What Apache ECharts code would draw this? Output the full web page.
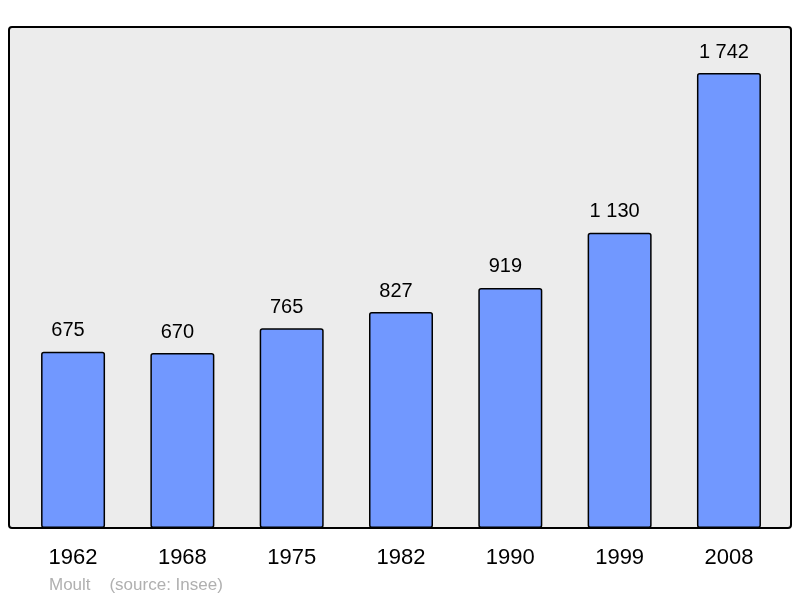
<!DOCTYPE html>
<html><head><meta charset="utf-8">
<script src="https://cdn.jsdelivr.net/npm/echarts@6/dist/echarts.min.js"></script>
<style>html,body{margin:0;padding:0;background:#fff}#c{width:800px;height:598px}</style>
</head><body><div id="c"></div>
<script>
const years = ['1962','1968','1975','1982','1990','1999','2008'];
const population = [675, 670, 765, 827, 919, 1130, 1742];
const sourceText = 'Moult    (source: Insee)';

const chart = echarts.init(document.getElementById('c'), null, {renderer:'canvas'});
const fmt = v => String(v).replace(/\B(?=(\d{3})+(?!\d))/g, ' ');
chart.setOption({
  animation: false,
  backgroundColor: '#fff',
  graphic: [
    {type:'rect', z:-10, shape:{x:9, y:27, width:782, height:501, r:3},
     style:{fill:'#ececec', stroke:'#000', lineWidth:2}},
    {type:'text', left:49, top:577, style:{text:sourceText, fill:'#b0b0b0', font:'17px "Liberation Sans", Arial, sans-serif'}}
  ],
  grid: {left:18.4, right:16.4, top:73, bottom:70},
  xAxis: {
    type:'category', data: years,
    axisLine:{show:false}, axisTick:{show:false},
    axisLabel:{color:'#000', fontSize:22, fontFamily:'"Liberation Sans", Arial, sans-serif', margin:19}
  },
  yAxis: {
    type:'value', min:0, max: v => v.max,
    show:false, splitLine:{show:false}
  },
  series: [{
    type:'bar', data: population, barWidth:64,
    itemStyle:{color:'#7198ff', borderColor:'#000', borderWidth:1.5, borderRadius:2},
    label:{show:true, position:'top', distance:11, offset:[-5,0], color:'#000', fontSize:20,
      fontFamily:'"Liberation Sans", Arial, sans-serif', formatter: p => fmt(p.value)}
  }]
});
</script></body></html>
